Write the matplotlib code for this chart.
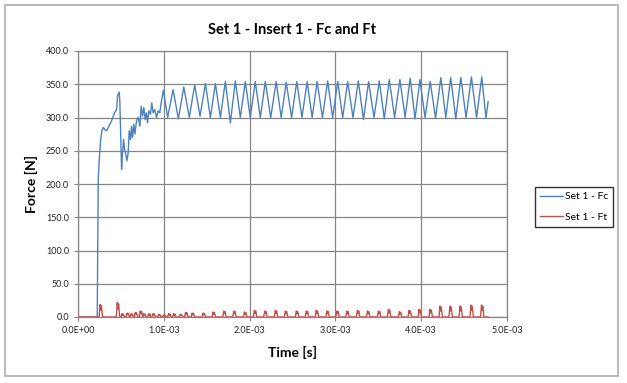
import matplotlib
matplotlib.use("Agg")
import matplotlib.pyplot as plt
from matplotlib.patches import Rectangle
from matplotlib.ticker import FuncFormatter, MultipleLocator

plt.rcParams['font.family'] = ['Lato', 'DejaVu Sans']

# Fc trace (time in ms, force in N) - start-up part, read point by point
fc_start_t = [0.0, 0.224, 0.236, 0.248, 0.264, 0.279, 0.295, 0.314, 0.333, 0.353,
              0.372, 0.391, 0.411, 0.430, 0.450, 0.461, 0.481, 0.488, 0.500, 0.508,
              0.519, 0.531, 0.543, 0.554, 0.570, 0.585, 0.597, 0.612, 0.624, 0.636,
              0.651, 0.663, 0.682, 0.702, 0.721, 0.736, 0.752, 0.767, 0.783, 0.798,
              0.810, 0.826, 0.845, 0.860, 0.876, 0.895, 0.915, 0.934, 0.953, 0.973]
fc_start_v = [0, 0, 207, 237, 267, 280, 285, 282, 280, 285,
              290, 295, 302, 308, 312, 333, 338, 322, 262, 222,
              247, 267, 252, 247, 235, 247, 280, 267, 287, 270,
              290, 275, 295, 300, 287, 317, 302, 315, 297, 307,
              292, 310, 305, 322, 307, 312, 300, 310, 307, 325]

# Fc steady oscillation: peaks and troughs
fc_peak_t = [0.995, 1.108, 1.233, 1.360, 1.485, 1.601, 1.717, 1.834, 1.950, 2.066,
             2.183, 2.310, 2.427, 2.550, 2.671, 2.787, 2.910, 3.027, 3.143, 3.267,
             3.387, 3.512, 3.628, 3.752, 3.872, 3.985, 4.105, 4.229, 4.344, 4.462,
             4.585, 4.706]
fc_peak_v = [341, 342, 346, 349, 351, 351, 354, 355, 354, 354,
             354, 354, 353, 354, 354, 354, 355, 354, 354, 355,
             354, 355, 357, 357, 359, 357, 354, 360, 360, 360,
             361, 361]
fc_trough_t = [1.045, 1.170, 1.297, 1.422, 1.543, 1.660, 1.776, 1.892, 2.008, 2.125,
               2.246, 2.368, 2.489, 2.610, 2.729, 2.849, 2.968, 3.085, 3.205, 3.327,
               3.450, 3.570, 3.690, 3.812, 3.928, 4.045, 4.167, 4.287, 4.403, 4.523,
               4.645, 4.755]
fc_trough_v = [300, 298, 300, 302, 300, 300, 292, 300, 300, 300,
               300, 300, 300, 300, 300, 300, 300, 300, 300, 297,
               300, 298, 300, 300, 298, 300, 299, 300, 298, 300,
               300, 299]
fc_end_t = 4.780
fc_end_v = 324

# Ft spikes (time in ms, spike height in N)
ft_spike_t = [0.268, 0.468, 0.523, 0.581, 0.628, 0.678, 0.736, 0.775, 0.833, 0.884,
              0.950, 1.008, 1.066, 1.124, 1.202, 1.264, 1.341, 1.469, 1.585, 1.709,
              1.826, 1.950, 2.066, 2.186, 2.310, 2.427, 2.555, 2.671, 2.787, 2.911,
              3.027, 3.143, 3.267, 3.384, 3.512, 3.628, 3.756, 3.869, 3.985, 4.113,
              4.229, 4.345, 4.462, 4.590, 4.713]
ft_spike_v = [19, 22, 5, 6, 5, 7, 9, 5, 5, 5,
              4, 3, 5, 5, 4, 7, 6, 6, 7.5, 9,
              9, 7.5, 10, 9, 10, 9, 9, 9, 10, 9,
              9, 9, 10, 9, 9, 11.5, 8, 10, 11.5, 11.5,
              16.5, 16.5, 16.5, 18, 18]
ft_end_t = 4.780

BLUE = '#4F81BD'
RED = '#C0504D'
GRID = '#868686'


def fc_trace():
    t = list(fc_start_t)
    v = list(fc_start_v)
    for pt, pv, tt, tv in zip(fc_peak_t, fc_peak_v, fc_trough_t, fc_trough_v):
        t += [pt, tt]
        v += [pv, tv]
    t.append(fc_end_t)
    v.append(fc_end_v)
    return [x * 1e-3 for x in t], v


def ft_trace():
    # each spike drawn as a narrow double-topped bump on a zero baseline
    t = [0.0]
    v = [0.0]
    for tp, h in zip(ft_spike_t, ft_spike_v):
        t += [tp - 0.022, tp - 0.010, tp - 0.003, tp + 0.005, tp + 0.018]
        v += [0, h, 0.55 * h, 0.9 * h, 0]
    t.append(ft_end_t)
    v.append(0)
    return [x * 1e-3 for x in t], v


fig = plt.figure(figsize=(6.27, 3.83), dpi=100)
fig.patches.append(Rectangle((5 / 627, 1 - 376 / 383), 613 / 627, 371 / 383,
                             transform=fig.transFigure, fill=False,
                             edgecolor='#bdbdbd', lw=1.5))

ax = fig.add_axes([78 / 627, 1 - 317 / 383, 429 / 627, 266 / 383])

tc, fc = fc_trace()
tt, ft = ft_trace()
ax.plot(tc, fc, color=BLUE, lw=1.0, label='Set 1 - Fc', zorder=3)
ax.plot(tt, ft, color=RED, lw=1.0, label='Set 1 - Ft', zorder=3)

ax.set_xlim(0, 5e-3)
ax.set_ylim(0, 400)
ax.xaxis.set_major_locator(MultipleLocator(1e-3))
ax.yaxis.set_major_locator(MultipleLocator(50))
ax.xaxis.set_major_formatter(FuncFormatter(lambda x, p: f"{x:.1E}"))
ax.yaxis.set_major_formatter(FuncFormatter(lambda y, p: f"{y:.1f}"))
ax.grid(True, color=GRID, lw=0.9)
ax.set_axisbelow(True)
for s in ax.spines.values():
    s.set_color(GRID)
    s.set_linewidth(0.9)
ax.tick_params(colors='#222222', labelsize=6.5, length=3, color=GRID)

ax.set_title('Set 1 - Insert 1 - Fc and Ft', fontsize=10.5, fontweight='bold', pad=12)
ax.set_xlabel('Time [s]', fontsize=10, fontweight='bold', labelpad=8)
ax.set_ylabel('Force [N]', fontsize=10, fontweight='bold', labelpad=6)

leg = ax.legend(loc='center left', bbox_to_anchor=(535 / 627, 1 - 207 / 383),
                bbox_transform=fig.transFigure, borderaxespad=0, fontsize=7.5,
                frameon=True, fancybox=False, handlelength=2.2, handletextpad=0.2,
                borderpad=0.45, labelspacing=1.1)
leg.get_frame().set_edgecolor('black')
leg.get_frame().set_linewidth(1.0)

fig.savefig('out.png', dpi=100)
